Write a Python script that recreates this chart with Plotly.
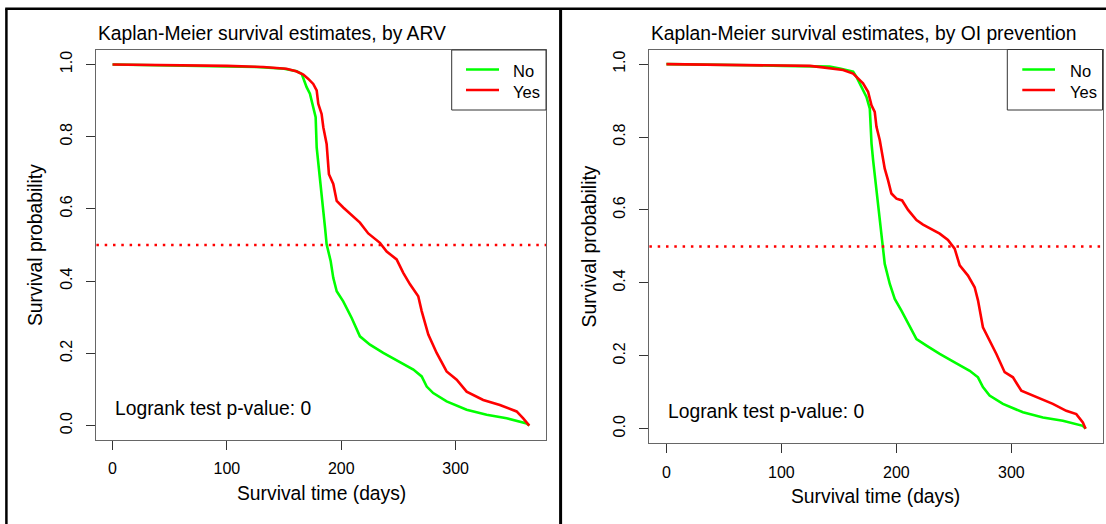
import plotly.graph_objects as go

# ---------------- data ----------------
arv_no_t = [0, 54.6, 100, 126, 150, 161, 165.4, 166.8, 169.7, 172.6, 175.5, 177.6, 178.5, 181.4,
            183.7, 185.8, 187.2, 188.7, 190.7, 193.0, 196.0, 201.7, 209.1, 216.3, 225.1, 236.7,
            249.8, 263.0, 270.3, 274.7, 280.4, 292.1, 309.6, 327.1, 344.6, 362.1, 364.4]
arv_no_s = [1.0, 0.997, 0.995, 0.993, 0.988, 0.981, 0.974, 0.960, 0.937, 0.919, 0.881, 0.854, 0.770,
            0.687, 0.613, 0.548, 0.502, 0.483, 0.456, 0.409, 0.372, 0.344, 0.298, 0.247, 0.224,
            0.201, 0.178, 0.155, 0.136, 0.108, 0.090, 0.067, 0.044, 0.030, 0.020, 0.006, 0.0]

arv_yes_t = [0, 54.6, 100, 131.8, 152, 160.6, 166.8, 171.2, 175.5, 178.5, 179.9, 182.8, 184.3, 187.2,
             189.2, 193.0, 196.0, 201.7, 207.6, 210.5, 216.3, 223.6, 233.8, 239.7, 248.4, 254.2,
             260.1, 267.3, 270.3, 276.1, 283.4, 292.1, 300.9, 309.6, 324.1, 338.7, 353.3, 359.1, 364.4]
arv_yes_s = [1.0, 0.998, 0.996, 0.993, 0.988, 0.981, 0.972, 0.960, 0.946, 0.928, 0.891, 0.863, 0.826,
             0.780, 0.696, 0.669, 0.622, 0.604, 0.587, 0.579, 0.562, 0.532, 0.506, 0.482, 0.460,
             0.423, 0.391, 0.358, 0.317, 0.252, 0.201, 0.150, 0.127, 0.094, 0.071, 0.057, 0.039,
             0.020, 0.0]

oi_no_t = [0, 55.2, 74.1, 101.6, 124.8, 142, 150.8, 162.4, 165.3, 168.2, 171.0, 174.0, 176.9, 178.4,
           179.8, 182.1, 184.1, 186.5, 188.0, 189.9, 194.3, 198.6, 204.4, 210.2, 217.5, 226.2,
           237.7, 250.7, 263.8, 271.0, 275.3, 281.1, 292.7, 310.1, 327.5, 344.8, 362.2, 364.6]
oi_no_s = [1.0, 0.999, 0.997, 0.995, 0.995, 0.993, 0.988, 0.979, 0.965, 0.947, 0.933, 0.910, 0.878,
           0.782, 0.736, 0.672, 0.620, 0.540, 0.498, 0.452, 0.397, 0.356, 0.324, 0.288, 0.246,
           0.228, 0.205, 0.182, 0.159, 0.141, 0.114, 0.091, 0.068, 0.045, 0.031, 0.022, 0.008, 0.0]

oi_yes_t = [0, 72.6, 124.8, 136, 145, 153.7, 162.4, 166.7, 171.0, 175.4, 178.4, 181.2, 182.7, 185.6,
            187.9, 189.9, 192.8, 195.7, 200.1, 205.0, 210.2, 217.5, 223.2, 231.9, 237.7, 244.9,
            250.7, 255.1, 262.3, 268.1, 271.0, 275.3, 281.1, 287.0, 294.2, 301.4, 308.7, 321.7,
            336.1, 347.8, 356.5, 362.2, 364.6]
oi_yes_s = [1.0, 0.997, 0.995, 0.991, 0.988, 0.984, 0.974, 0.961, 0.947, 0.924, 0.887, 0.869, 0.828,
            0.791, 0.745, 0.713, 0.681, 0.645, 0.631, 0.626, 0.600, 0.572, 0.560, 0.544, 0.535,
            0.518, 0.494, 0.448, 0.420, 0.388, 0.352, 0.278, 0.242, 0.205, 0.155, 0.141, 0.104,
            0.086, 0.068, 0.049, 0.040, 0.017, 0.0]

group_labels = ["No", "Yes"]
group_colors = ["#00ff00", "#ff0000"]
titles = ["Kaplan-Meier survival estimates, by ARV",
          "Kaplan-Meier survival estimates, by OI prevention"]
x_ticks = [0, 100, 200, 300]
y_ticks = [0.0, 0.2, 0.4, 0.6, 0.8, 1.0]
y_ticktext = ["0.0", "0.2", "0.4", "0.6", "0.8", "1.0"]
median_line = 0.5
pvalue_text = "Logrank test p-value: 0"

# ---------------- figure ----------------
W, H = 1106, 524
FONT = "Arial, 'Liberation Sans', sans-serif"
BIG = 19.3
SMALL = 16

def px_x(p):
    return p / W

def px_y(p):
    return 1 - p / H

fig = go.Figure()
panels = [
    (arv_no_t, arv_no_s, arv_yes_t, arv_yes_s, "x", "y"),
    (oi_no_t, oi_no_s, oi_yes_t, oi_yes_s, "x2", "y2"),
]
for (nt, ns, yt, ys, xa, ya) in panels:
    for t, s, name, col in [(nt, ns, group_labels[0], group_colors[0]),
                            (yt, ys, group_labels[1], group_colors[1])]:
        fig.add_trace(go.Scatter(x=t, y=s, mode="lines", name=name, xaxis=xa, yaxis=ya,
                                 showlegend=False,
                                 line=dict(color=col, width=2.6, shape="linear"),
                                 hoverinfo="skip"))

# plot boxes (pixels) and legend boxes (pixels)
boxes = [
    dict(l=96.4, r=546.0, t=50.0, b=440.0, xr=[-14.1, 379.0], yr=[-0.04, 1.04],
         xtitle_y=493.5, ytitle_x=35, title_y=33.5,
         leg=dict(l=451.7, r=546.0, t=50.0, b=110.0, ll=466.0, lr=499.0, tx=511.0)),
    dict(l=649.4, r=1102.5, t=49.5, b=443.3, xr=[-14.8, 379.3], yr=[-0.04, 1.04],
         xtitle_y=496.5, ytitle_x=589, title_y=33.5,
         leg=dict(l=1007.3, r=1102.5, t=49.5, b=110.0, ll=1022.3, lr=1055.0, tx=1067.5)),
]
leg_line_y = [69.5, 90.0]
leg_text_y = [71.5, 91.5]

axis_common = dict(showgrid=False, zeroline=False, showline=True, mirror=True,
                   linecolor="#666666", linewidth=1, ticks="outside", ticklen=9,
                   tickcolor="#333333", tickwidth=1,
                   tickfont=dict(family=FONT, size=SMALL, color="#000000"))
layout_axes = {}
for i, b in enumerate(boxes):
    sfx = "" if i == 0 else "2"
    layout_axes["xaxis" + sfx] = dict(axis_common, domain=[px_x(b["l"]), px_x(b["r"])],
                                      range=b["xr"], tickvals=x_ticks, anchor="y" + sfx,
                                      ticklabelstandoff=5)
    layout_axes["yaxis" + sfx] = dict(axis_common, domain=[px_y(b["b"]), px_y(b["t"])],
                                      range=b["yr"], tickvals=y_ticks, ticktext=y_ticktext,
                                      tickangle=-90, anchor="x" + sfx, ticklabelstandoff=8)

annotations = []
shapes = []
txt = dict(family=FONT, size=BIG, color="#000000")
for i, b in enumerate(boxes):
    sfx = "" if i == 0 else "2"
    xref = "x" + sfx
    yref = "y" + sfx
    annotations.append(dict(text=titles[i], xref="paper", yref="paper", x=px_x(b["l"]),
                            y=px_y(b["title_y"]), xanchor="left", yanchor="middle",
                            showarrow=False, font=txt))
    annotations.append(dict(text="Survival time (days)", xref="paper", yref="paper",
                            x=px_x((b["l"] + b["r"]) / 2), y=px_y(b["xtitle_y"]),
                            xanchor="center", yanchor="middle", showarrow=False, font=txt))
    annotations.append(dict(text="Survival probability", xref="paper", yref="paper",
                            x=px_x(b["ytitle_x"]), y=px_y((b["t"] + b["b"]) / 2),
                            xanchor="center", yanchor="middle", textangle=-90,
                            showarrow=False, font=txt))
    annotations.append(dict(text=pvalue_text, xref=xref, yref=yref, x=0, y=0.046,
                            xanchor="left", yanchor="middle", showarrow=False, font=txt))
    shapes.append(dict(type="line", xref=xref + " domain", yref=yref, x0=0, x1=1,
                       y0=median_line, y1=median_line,
                       line=dict(color="#ff0000", width=2.5, dash="2.5px,5.8px")))
    # legend
    lg = b["leg"]
    shapes.append(dict(type="rect", xref="paper", yref="paper", x0=px_x(lg["l"]),
                       x1=px_x(lg["r"]), y0=px_y(lg["b"]), y1=px_y(lg["t"]),
                       fillcolor="#ffffff", line=dict(color="#333333", width=1)))
    for k in range(2):
        shapes.append(dict(type="line", xref="paper", yref="paper", x0=px_x(lg["ll"]),
                           x1=px_x(lg["lr"]), y0=px_y(leg_line_y[k]), y1=px_y(leg_line_y[k]),
                           line=dict(color=group_colors[k], width=2.6)))
        annotations.append(dict(text=group_labels[k], xref="paper", yref="paper",
                                x=px_x(lg["tx"]), y=px_y(leg_text_y[k]), xanchor="left",
                                yanchor="middle", showarrow=False,
                                font=dict(family=FONT, size=SMALL + 0.5, color="#000000")))

# outer frames
frame = dict(color="#000000", width=2.5)
shapes.append(dict(type="line", xref="paper", yref="paper", x0=px_x(6.4), x1=px_x(6.4),
                   y0=px_y(8.7), y1=0, line=frame))
shapes.append(dict(type="line", xref="paper", yref="paper", x0=px_x(5.2), x1=1,
                   y0=px_y(8.7), y1=px_y(8.7), line=frame))
shapes.append(dict(type="line", xref="paper", yref="paper", x0=px_x(560.6), x1=px_x(560.6),
                   y0=px_y(8.7), y1=0, line=dict(color="#000000", width=3)))

fig.update_layout(
    width=W, height=H, margin=dict(l=0, r=0, t=0, b=0),
    paper_bgcolor="#ffffff", plot_bgcolor="#ffffff",
    font=dict(family=FONT, color="#000000"),
    showlegend=False,
    annotations=annotations, shapes=shapes,
    **layout_axes,
)

fig.write_html("out.html")
